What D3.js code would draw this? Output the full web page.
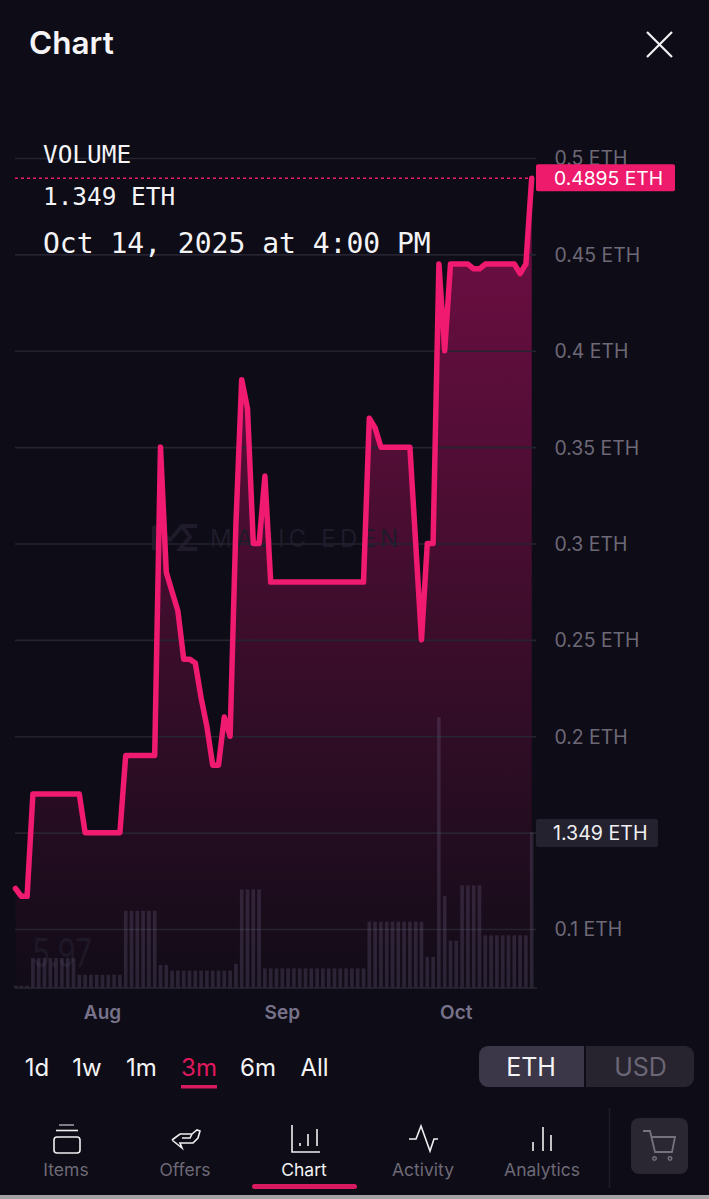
<!DOCTYPE html>
<html>
<head>
<meta charset="utf-8">
<title>Chart</title>
<script src="https://cdn.jsdelivr.net/npm/d3@7"></script>
<style>
    html, body { margin: 0; padding: 0; background: #0e0c16; }
    svg { display: block; font-family: Inter, "Noto Sans", sans-serif; }
</style>
</head>
<body>
<div id="chart"></div>
<script>
'use strict';

// one value per day, Jul 17 to Oct 14 2025
var startDay = new Date(Date.UTC(2025, 6, 17));
var endDay = new Date(Date.UTC(2025, 9, 14));

var priceValues = [
    0.121, 0.117, 0.117,
    0.17, 0.17, 0.17, 0.17, 0.17, 0.17, 0.17, 0.17, 0.17,
    0.15, 0.15, 0.15, 0.15, 0.15, 0.15, 0.15,
    0.19, 0.19, 0.19, 0.19, 0.19, 0.19,
    0.35, 0.285, 0.275, 0.265, 0.24, 0.24, 0.238, 0.22, 0.205, 0.185, 0.185, 0.21, 0.2,
    0.31, 0.385, 0.37, 0.3, 0.3, 0.335,
    0.28, 0.28, 0.28, 0.28, 0.28, 0.28, 0.28, 0.28, 0.28, 0.28, 0.28, 0.28, 0.28, 0.28, 0.28, 0.28, 0.28,
    0.365, 0.36, 0.35, 0.35, 0.35, 0.35, 0.35, 0.35,
    0.3, 0.25, 0.3, 0.3, 0.445, 0.4,
    0.445, 0.445, 0.445, 0.445, 0.4425, 0.4425,
    0.445, 0.445, 0.445, 0.445, 0.445, 0.445, 0.44, 0.445, 0.4895
];

var volumeValues = [
    0.02, 0.02, 0.02,
    0.26, 0.26, 0.26, 0.26, 0.26, 0.26, 0.26, 0.26,
    0.115, 0.115, 0.115, 0.115, 0.115, 0.115, 0.115, 0.115,
    0.67, 0.67, 0.67, 0.67, 0.67, 0.67,
    0.2, 0.2,
    0.15, 0.15, 0.15, 0.15, 0.15, 0.15, 0.15, 0.15, 0.15, 0.15, 0.15,
    0.21,
    0.855, 0.855, 0.855, 0.855,
    0.17, 0.17, 0.17, 0.17, 0.17, 0.17, 0.17, 0.17, 0.17, 0.17, 0.17, 0.17, 0.17, 0.17, 0.17, 0.17, 0.17, 0.17,
    0.575, 0.575, 0.575, 0.575, 0.575, 0.575, 0.575, 0.575, 0.575, 0.575,
    0.27, 0.27, 2.35, 0.8, 0.41, 0.41,
    0.89, 0.89, 0.89, 0.89,
    0.457, 0.457, 0.457, 0.457, 0.457, 0.457, 0.457, 0.457,
    1.349
];

var priceTicks = [0.5, 0.45, 0.4, 0.35, 0.3, 0.25, 0.2, 0.15, 0.1];
var priceTickLabels = ["0.5 ETH", "0.45 ETH", "0.4 ETH", "0.35 ETH", "0.3 ETH", "0.25 ETH", "0.2 ETH", "", "0.1 ETH"];
var monthTicks = [new Date(Date.UTC(2025, 7, 1)), new Date(Date.UTC(2025, 8, 1)), new Date(Date.UTC(2025, 9, 1))];
var rangeTabs = ["1d", "1w", "1m", "3m", "6m", "All"];
var navTabs = ["Items", "Offers", "Chart", "Activity", "Analytics"];

var currentPrice = 0.4895;
var currentVolume = 1.349;

var width = 709;
var height = 1199;
var pink = "#f01a70";

var days = d3.utcDay.range(startDay, d3.utcDay.offset(endDay, 1));

var x = d3.scaleUtc().domain([startDay, endDay]).range([15.5, 531.7]);
var y = d3.scaleLinear().domain([0.1, 0.5]).range([929, 158]);
var yVolume = d3.scaleLinear().domain([0, currentVolume]).range([988, 832.5]);

var svg = d3.select("#chart").append("svg")
    .attr("width", width)
    .attr("height", height)
    .attr("viewBox", "0 0 " + width + " " + height);

svg.append("rect").attr("width", width).attr("height", height).attr("fill", "#0e0c16");

var defs = svg.append("defs");
var gradient = defs.append("linearGradient")
    .attr("id", "areaFill")
    .attr("gradientUnits", "userSpaceOnUse")
    .attr("x1", 0).attr("x2", 0)
    .attr("y1", y(currentPrice)).attr("y2", 988);
gradient.append("stop").attr("offset", "0%").attr("stop-color", "#730e45");
gradient.append("stop").attr("offset", "100%").attr("stop-color", "#730e45").attr("stop-opacity", 0.03);

// header
svg.append("text").attr("x", 29).attr("y", 54).attr("fill", "#f5f5f7")
    .attr("font-size", 31.5).attr("font-weight", 600).text("Chart");
svg.append("path").attr("d", "M647,32L672,57M672,32L647,57")
    .attr("stroke", "#f2f2f4").attr("stroke-width", 2.2).attr("fill", "none");

// area under the price line
var area = d3.area()
    .x(function(d, i) { return x(days[i]); })
    .y0(988)
    .y1(function(d) { return y(d); });
svg.append("path").datum(priceValues).attr("d", area).attr("fill", "url(#areaFill)");

// watermark
var mark = svg.append("g").attr("fill", "none").attr("stroke", "#1f1b2a").attr("stroke-width", 4);
mark.append("path").attr("d", "M154,526V550M154,526L170,540L182,526H197M182,526L190,537L180,549H197");
svg.append("text").attr("x", 210).attr("y", 547).attr("fill", "#1f1b2a")
    .attr("font-size", 24).attr("letter-spacing", 4.2).text("MAGIC EDEN");
svg.append("text").attr("x", 32).attr("y", 967).attr("fill", "#1e1827")
    .attr("font-size", 40)
    .attr("textLength", 60)
    .attr("lengthAdjust", "spacingAndGlyphs")
    .text("5.97");

// grid and y labels
var yAxis = d3.axisRight(y)
    .tickValues(priceTicks)
    .tickSize(521)
    .tickFormat(function(d, i) { return priceTickLabels[i]; });
var yG = svg.append("g").attr("transform", "translate(15,0)").call(yAxis);
yG.select(".domain").remove();
yG.selectAll("line").attr("stroke", "#262230").attr("stroke-width", 1.6);
yG.selectAll("text")
    .attr("x", 539.5)
    .attr("dy", "0.36em")
    .attr("fill", "#6d6977")
    .attr("font-size", 19.4)
    .attr("font-family", "Inter, sans-serif");

// volume bars
svg.append("g").selectAll("rect")
    .data(volumeValues)
    .enter().append("rect")
    .attr("x", function(d, i) { return x(days[i]) - 1.8; })
    .attr("y", function(d) { return yVolume(d); })
    .attr("width", 3.6)
    .attr("height", function(d) { return 988 - yVolume(d); })
    .attr("fill", "#6e6585")
    .attr("fill-opacity", 0.28);

// month axis
var xAxis = d3.axisBottom(x)
    .tickValues(monthTicks)
    .tickSize(0)
    .tickPadding(18)
    .tickFormat(d3.utcFormat("%b"));
var xG = svg.append("g").attr("transform", "translate(0,988)").call(xAxis);
xG.select(".domain").attr("d", "M15,0H537").attr("stroke", "#2a2633").attr("stroke-width", 1.6);
xG.selectAll("text")
    .attr("fill", "#77728a")
    .attr("font-size", 19)
    .attr("font-weight", 600)
    .attr("font-family", "Inter, sans-serif")
    .attr("dx", -0.5);

// price line
var line = d3.line()
    .x(function(d, i) { return x(days[i]); })
    .y(function(d) { return y(d); });
svg.append("path").attr("d", "M15," + y(currentPrice) + "H532")
    .attr("stroke", pink).attr("stroke-width", 1.5).attr("stroke-dasharray", "3,3");
svg.append("path").datum(priceValues).attr("d", line)
    .attr("fill", "none")
    .attr("stroke", pink)
    .attr("stroke-width", 5.5)
    .attr("stroke-linejoin", "round")
    .attr("stroke-linecap", "round");

// value flags
svg.append("rect").attr("x", 536).attr("y", y(currentPrice) - 14).attr("width", 139).attr("height", 27)
    .attr("rx", 2).attr("fill", "#ee1a6c");
svg.append("text").attr("x", 554).attr("y", y(currentPrice) + 7).attr("fill", "#fff")
    .attr("font-size", 19.3).text(d3.format(".4f")(currentPrice) + " ETH");
svg.append("rect").attr("x", 536).attr("y", 819).attr("width", 122).attr("height", 28)
    .attr("rx", 2).attr("fill", "#25222f");
svg.append("text").attr("x", 553).attr("y", 840).attr("fill", "#f0f0f2")
    .attr("font-size", 19.6).text(currentVolume + " ETH");

// tooltip text
var mono = svg.append("g").attr("fill", "#f4f4f6").attr("font-family", "'DejaVu Sans Mono', monospace");
mono.append("text").attr("x", 43).attr("y", 163).attr("font-size", 24.4).text("VOLUME");
mono.append("text").attr("x", 43).attr("y", 205).attr("font-size", 24.4).text("1.349 ETH");
mono.append("text").attr("x", 43).attr("y", 253).attr("font-size", 28).text("Oct 14, 2025 at 4:00 PM");

// range tabs
var rangeX = [37, 87, 141.5, 199, 258, 314.5];
svg.append("g").selectAll("text")
    .data(rangeTabs)
    .enter().append("text")
    .attr("x", function(d, i) { return rangeX[i]; })
    .attr("y", 1076)
    .attr("text-anchor", "middle")
    .attr("font-size", 24)
    .attr("fill", function(d) { return d === "3m" ? "#e0195f" : "#f4f4f6"; })
    .text(function(d) { return d; });
svg.append("rect").attr("x", 181).attr("y", 1085).attr("width", 36).attr("height", 3.5).attr("fill", "#d81b60");

// currency toggle
svg.append("path").attr("d", "M586,1046H685a9,9 0 0 1 9,9V1078a9,9 0 0 1 -9,9H586Z").attr("fill", "#272430");
svg.append("path").attr("d", "M584,1046H488a9,9 0 0 0 -9,9V1078a9,9 0 0 0 9,9H584Z").attr("fill", "#3b3748");
svg.append("text").attr("x", 531).attr("y", 1076).attr("text-anchor", "middle")
    .attr("font-size", 25).attr("fill", "#f4f4f6").text("ETH");
svg.append("text").attr("x", 640.5).attr("y", 1076).attr("text-anchor", "middle")
    .attr("font-size", 25).attr("fill", "#6a6675").text("USD");

// bottom nav
var navX = [66, 185, 304, 423, 542];
svg.append("g").selectAll("text")
    .data(navTabs)
    .enter().append("text")
    .attr("x", function(d, i) { return navX[i]; })
    .attr("y", 1176)
    .attr("text-anchor", "middle")
    .attr("font-size", 17.5)
    .attr("fill", function(d) { return d === "Chart" ? "#f4f4f6" : "#6d6977"; })
    .text(function(d) { return d; });
svg.append("rect").attr("x", 252).attr("y", 1184).attr("width", 105).attr("height", 5)
    .attr("rx", 2.5).attr("fill", "#d81b60");

var icons = svg.append("g").attr("fill", "none").attr("stroke", "#f0f0f2").attr("stroke-width", 1.6);
icons.append("rect").attr("x", 54).attr("y", 1137).attr("width", 26).attr("height", 16).attr("rx", 3);
icons.append("path").attr("d", "M56,1130.5H78");
icons.append("path").attr("d", "M59,1125H74").attr("stroke", "#9c9aa3");
icons.append("path").attr("d", "M172,1140L180,1134H192L190,1138H182M192,1134L197,1130L200,1131L198,1138L193,1143H180L182,1148L172,1140");
icons.append("path").attr("d", "M292,1125V1152H320M300,1146V1143M308,1146V1134M317,1146V1129");
icons.append("path").attr("d", "M409,1139H416L421,1126L430,1151L434,1139H438");
icons.append("path").attr("d", "M533,1151V1142M543,1151V1127M551,1151V1135");

// cart
svg.append("path").attr("d", "M609.5,1108V1188").attr("stroke", "#1e1b27").attr("stroke-width", 1.6);
svg.append("rect").attr("x", 631).attr("y", 1118).attr("width", 57).attr("height", 56)
    .attr("rx", 8).attr("fill", "#2a2733");
svg.append("path").attr("d", "M643,1131H650L655,1152H672L675,1137H651")
    .attr("fill", "none").attr("stroke", "#75717f").attr("stroke-width", 1.8);
svg.selectAll(".cartWheel").data([654.5, 670]).enter().append("circle")
    .attr("class", "cartWheel").attr("cx", function(d) { return d; }).attr("cy", 1158.5).attr("r", 1.8)
    .attr("fill", "none").attr("stroke", "#75717f").attr("stroke-width", 1.4);

// strip at the bottom edge of the screenshot
svg.append("rect").attr("x", 0).attr("y", 1195).attr("width", width).attr("height", 4).attr("fill", "#a3a3a6");
</script>
</body>
</html>
